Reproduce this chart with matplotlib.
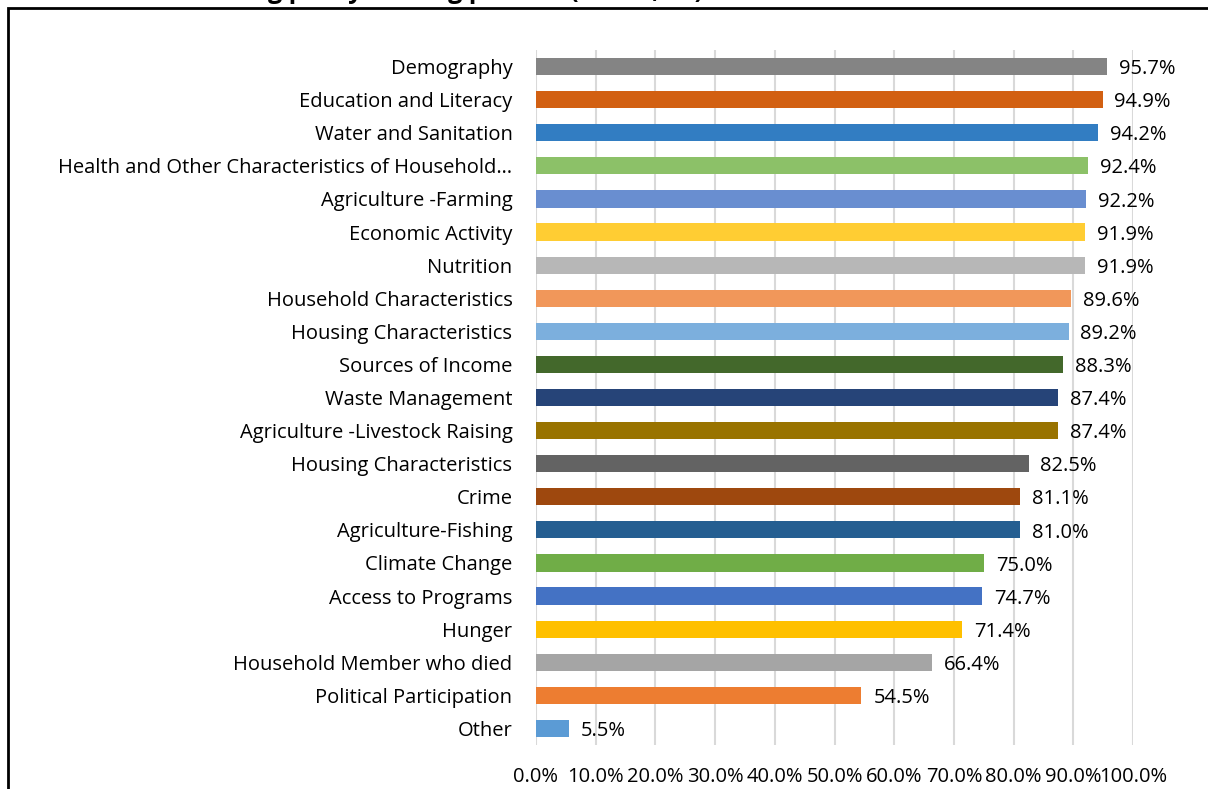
import numpy as np
import matplotlib
matplotlib.use("Agg")
import matplotlib.pyplot as plt
from matplotlib.patches import Rectangle
from matplotlib.ticker import PercentFormatter

categories = [
    "Demography", "Education and Literacy", "Water and Sanitation",
    "Health and Other Characteristics of Household\u2026", "Agriculture -Farming",
    "Economic Activity", "Nutrition", "Household Characteristics",
    "Housing Characteristics", "Sources of Income", "Waste Management",
    "Agriculture -Livestock Raising", "Housing Characteristics", "Crime",
    "Agriculture-Fishing", "Climate Change", "Access to Programs", "Hunger",
    "Household Member who died", "Political Participation", "Other",
]
values = [95.7, 94.9, 94.2, 92.4, 92.2, 91.9, 91.9, 89.6, 89.2, 88.3, 87.4,
          87.4, 82.5, 81.1, 81.0, 75.0, 74.7, 71.4, 66.4, 54.5, 5.5]
colors = ["#848484", "#d26012", "#327dc2", "#8cc168", "#698ed0", "#ffcd33",
          "#b7b7b7", "#f1975a", "#7cafdd", "#43682b", "#264478", "#997300",
          "#636363", "#9e480e", "#255e91", "#70ad47", "#4472c4", "#ffc000",
          "#a5a5a5", "#ed7d31", "#5b9bd5"]
xticks = np.arange(0, 101, 10)

plt.rcParams["font.family"] = ["Open Sans", "DejaVu Sans"]
FS = 14.5

W, H = 1208, 789
fig = plt.figure(figsize=(W / 100, H / 100), dpi=100)

# outer chart frame (runs off the right/bottom of the picture)
fig.patches.append(Rectangle((8 / W, -0.1), 1.2, 1 - 8 / H + 0.1,
                             transform=fig.transFigure, fill=False,
                             edgecolor="black", linewidth=2))
# title, mostly cut off at the top
fig.text(703 / W, 1 + 1.5 / H,
         "Figure 5. Use of data in decision making policy making process (n=551, 55)",
         ha="right", va="baseline", fontsize=18, fontweight="bold")

ax = fig.add_axes([536 / W, 1 - 745 / H, (1133 - 536) / W, (745 - 50) / H])
y = np.arange(len(categories))
ax.barh(y, values, height=0.52, color=colors, zorder=3)
for yi, v in zip(y, values):
    ax.text(v + 2.0, yi + 0.08, f"{v:.1f}%", va="center", ha="left", fontsize=FS)

ax.set_ylim(len(categories) - 0.5, -0.5)
ax.set_xlim(0, 100)
ax.set_yticks(y)
ax.set_yticklabels(categories, fontsize=FS)
ax.set_xticks(xticks)
ax.xaxis.set_major_formatter(PercentFormatter(decimals=1))
ax.tick_params(axis="x", length=0, pad=16, labelsize=FS)
ax.tick_params(axis="y", length=0, pad=17)
ax.grid(axis="x", color="#d9d9d9", linewidth=1.5, zorder=0)
for s in ax.spines.values():
    s.set_visible(False)

fig.savefig("out.png", dpi=100)
